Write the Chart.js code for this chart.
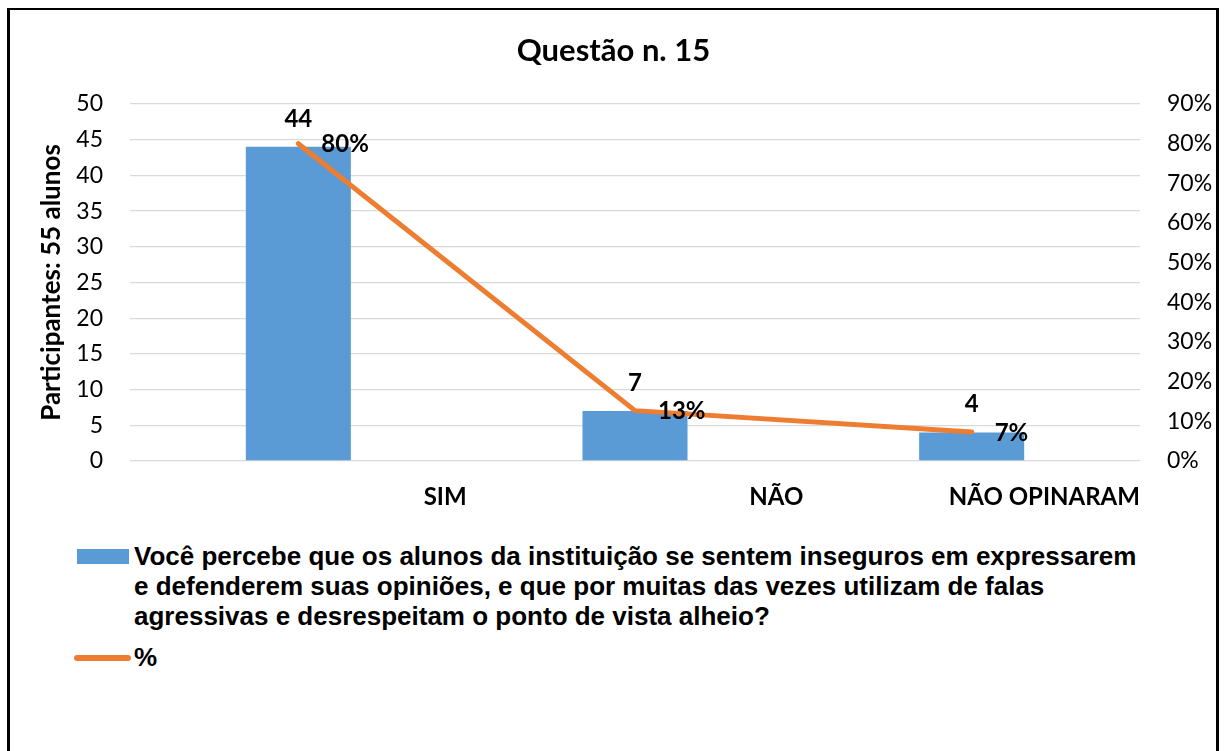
<!DOCTYPE html>
<html>
<head>
<meta charset="utf-8">
<script src="https://cdn.jsdelivr.net/npm/chart.js@4"></script>
<style>
  html, body { margin: 0; padding: 0; background: #fff; width: 1227px; height: 751px; overflow: hidden; }
  #frame { position: absolute; left: 7px; top: 8px; width: 1206px; height: 800px; border-style: solid; border-color: #000; border-width: 2px 3px 3px 3px; }
  #c { position: absolute; left: 0; top: 0; }
  .lg { position: absolute; font-family: "Liberation Sans", Arial, sans-serif; font-weight: bold; font-size: 26px; line-height: 30px; color: #000; white-space: nowrap; }
  #sw1 { position: absolute; left: 77px; top: 549px; width: 52px; height: 15px; background: #5B9BD5; }
  #sw2 { position: absolute; left: 74px; top: 655px; width: 57px; height: 6px; border-radius: 3px; background: #ED7D31; }
</style>
</head>
<body>
<div id="frame"></div>
<canvas id="c" width="1227" height="530"></canvas>
<div id="sw1"></div>
<div class="lg" id="t1" style="left:134px; top:541px;"></div>
<div id="sw2"></div>
<div class="lg" id="t2" style="left:134px; top:642px;"></div>
<script>
const chartTitle = 'Questão n. 15';
const categories = ['SIM', 'NÃO', 'NÃO OPINARAM'];
const participantes = [44, 7, 4];
const percentuais = [80, 12.7, 7.3];
const leftAxisTitle = 'Participantes: 55 alunos';
const barSeriesLines = [
  'Você percebe que os alunos da instituição se sentem inseguros em expressarem',
  'e defenderem suas opiniões, e que por muitas das vezes utilizam de falas',
  'agressivas e desrespeitam o ponto de vista alheio?'
];
const lineSeriesName = '%';

document.getElementById('t1').innerHTML = barSeriesLines.map(s => s.replace(/&/g,'&amp;')).join('<br>');
document.getElementById('t2').textContent = lineSeriesName;

const BLUE = '#5B9BD5', ORANGE = '#ED7D31', GRID = '#D9D9D9';

const labelPlugin = {
  id: 'valueLabels',
  afterDatasetsDraw(chart) {
    const ctx = chart.ctx;
    ctx.save();
    ctx.fillStyle = '#000';
    ctx.font = 'bold 24px Lato';
    chart.data.datasets.forEach((ds, di) => {
      const meta = chart.getDatasetMeta(di);
      meta.data.forEach((el, i) => {
        const v = ds.data[i];
        if (ds.type === 'bar') {
          ctx.textAlign = 'center';
          ctx.textBaseline = 'alphabetic';
          ctx.fillText(String(v), el.x, el.y - 20);
        } else {
          ctx.textAlign = 'left';
          ctx.textBaseline = 'middle';
          ctx.fillText(Math.round(v) + '%', el.x + 23, el.y + 1);
        }
      });
    });
    ctx.restore();
  }
};

new Chart(document.getElementById('c'), {
  data: {
    labels: categories,
    datasets: [
      {
        type: 'line',
        label: lineSeriesName,
        data: percentuais,
        yAxisID: 'y1',
        borderColor: ORANGE,
        backgroundColor: ORANGE,
        borderWidth: 5,
        borderCapStyle: 'round',
        borderJoinStyle: 'round',
        pointRadius: 0,
        tension: 0,
        order: 0
      },
      {
        type: 'bar',
        label: barSeriesLines.join(' '),
        data: participantes,
        yAxisID: 'y',
        backgroundColor: BLUE,
        borderWidth: 0,
        categoryPercentage: 1,
        barPercentage: 0.312,
        order: 1
      }
    ]
  },
  options: {
    responsive: false,
    animation: false,
    devicePixelRatio: 1,
    layout: { padding: 0 },
    plugins: {
      legend: { display: false },
      tooltip: { enabled: false },
      title: {
        display: true,
        text: chartTitle,
        color: '#000',
        font: { family: 'Lato', size: 31, weight: 'bold' },
        padding: { top: 32, bottom: 34.8 }
      }
    },
    scales: {
      x: {
        type: 'category',
        offset: true,
        grid: { display: false, drawTicks: false },
        border: { display: false },
        ticks: {
          color: '#000',
          font: { family: 'Lato', size: 24, weight: 'bold' },
          align: 'end',
          labelOffset: 168.3,
          padding: 22,
          maxRotation: 0,
          autoSkip: false
        },
        afterFit(s) { s.height = 69; }
      },
      y: {
        type: 'linear',
        position: 'left',
        min: 0, max: 50,
        grid: { color: GRID, lineWidth: 1.3, drawTicks: false },
        border: { display: false },
        ticks: { stepSize: 5, color: '#000', font: { family: 'Lato', size: 23 }, padding: 27 },
        title: {
          display: true,
          text: leftAxisTitle,
          color: '#000',
          font: { family: 'Lato', size: 26, weight: 'bold' },
          padding: { top: 36.4, bottom: 0 }
        },
        afterFit(s) { s.width = 130; }
      },
      y1: {
        type: 'linear',
        position: 'right',
        min: 0, max: 90,
        grid: { display: false, drawTicks: false },
        border: { display: false },
        ticks: { stepSize: 10, color: '#000', font: { family: 'Lato', size: 23 }, padding: 27, callback: v => v + '%' },
        afterFit(s) { s.width = 87; }
      }
    }
  },
  plugins: [labelPlugin]
});
</script>
</body>
</html>
